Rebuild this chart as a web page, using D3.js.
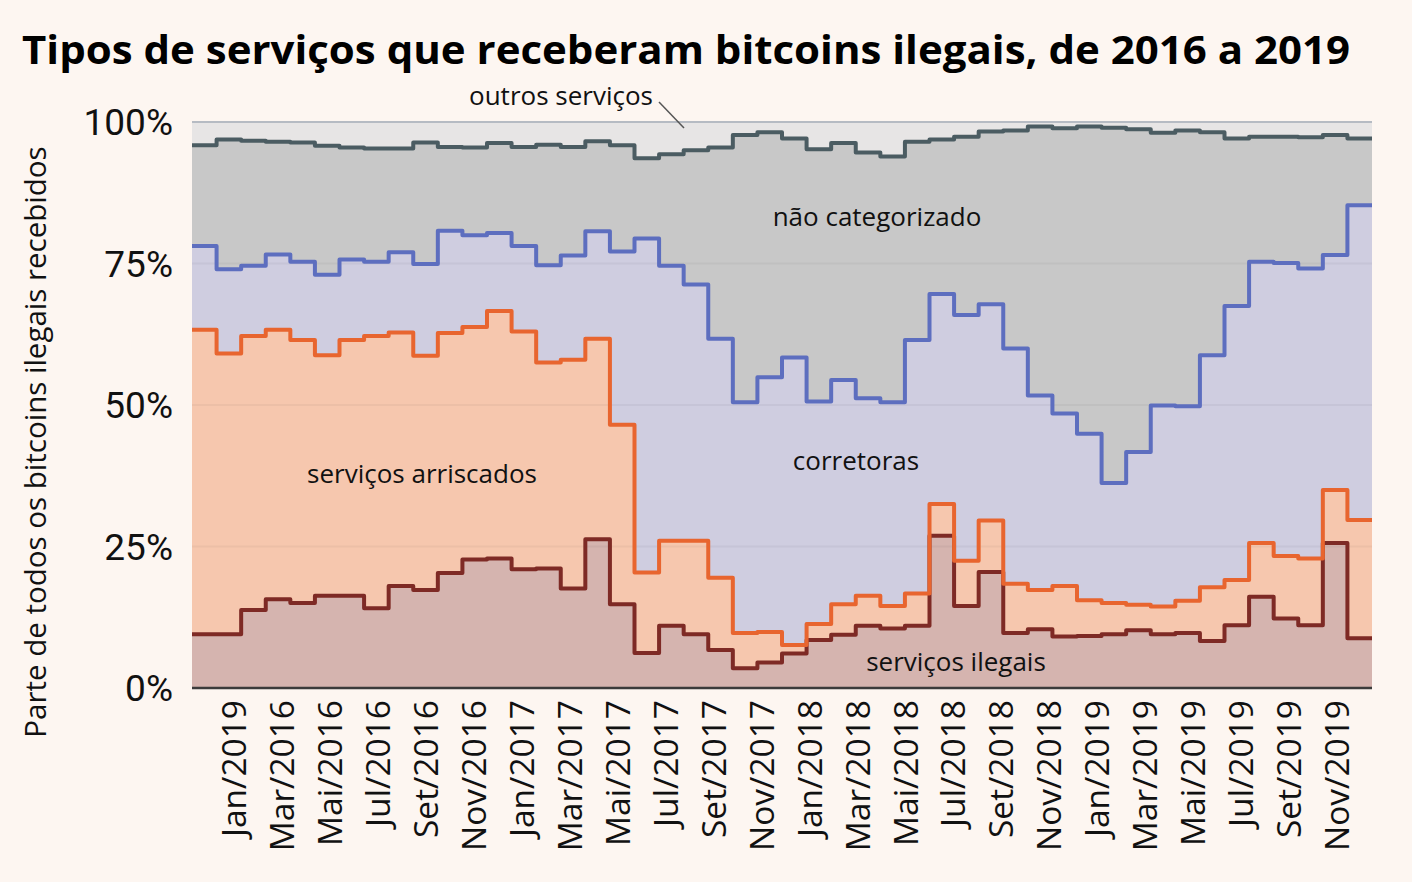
<!DOCTYPE html>
<html><head><meta charset="utf-8">
<script src="https://cdn.jsdelivr.net/npm/d3@7"></script>
<style>
html,body{margin:0;padding:0;background:#fdf6f1;}
svg{display:block;}
</style></head><body>
<svg id="chart" width="1412" height="882"></svg>
<script>
const months = [
 "Jan/2016","Fev/2016","Mar/2016","Abr/2016","Mai/2016","Jun/2016","Jul/2016","Ago/2016","Set/2016","Out/2016","Nov/2016","Dez/2016",
 "Jan/2017","Fev/2017","Mar/2017","Abr/2017","Mai/2017","Jun/2017","Jul/2017","Ago/2017","Set/2017","Out/2017","Nov/2017","Dez/2017",
 "Jan/2018","Fev/2018","Mar/2018","Abr/2018","Mai/2018","Jun/2018","Jul/2018","Ago/2018","Set/2018","Out/2018","Nov/2018","Dez/2018",
 "Jan/2019","Fev/2019","Mar/2019","Abr/2019","Mai/2019","Jun/2019","Jul/2019","Ago/2019","Set/2019","Out/2019","Nov/2019","Dez/2019"];

const tickLabels = ["Jan/2019","Mar/2016","Mai/2016","Jul/2016","Set/2016","Nov/2016",
 "Jan/2017","Mar/2017","Mai/2017","Jul/2017","Set/2017","Nov/2017",
 "Jan/2018","Mar/2018","Mai/2018","Jul/2018","Set/2018","Nov/2018",
 "Jan/2019","Mar/2019","Mai/2019","Jul/2019","Set/2019","Nov/2019"];

// shares (%) per month
const ilegais = [9.5,9.5,13.8,15.7,15.0,16.3,16.3,14.1,18.0,17.3,20.3,22.7,
 22.9,21.0,21.1,17.6,26.3,14.8,6.2,11.0,9.5,6.7,3.5,4.5,
 6.1,8.5,9.4,11.0,10.5,11.0,26.9,14.5,20.5,9.7,10.4,9.1,
 9.2,9.5,10.2,9.5,9.7,8.3,11.1,16.1,12.3,11.1,25.6,8.8];
const arriscados = [53.8,49.6,48.4,47.6,46.5,42.5,45.2,48.1,44.8,41.4,42.4,41.1,
 43.7,42.0,36.4,40.4,35.4,31.7,14.2,15.0,16.5,12.8,6.2,5.4,
 1.5,2.8,5.4,5.3,4.0,5.7,5.6,8.0,9.1,8.7,6.9,8.9,
 6.3,5.5,4.5,4.9,5.7,9.5,8.0,9.5,11.0,11.8,9.4,20.9];
const corretoras = [14.8,14.9,12.4,13.3,13.8,14.2,14.2,13.1,14.2,16.2,18.1,16.2,
 13.8,15.1,17.2,18.4,19.0,30.6,59.0,48.6,45.3,42.2,40.8,45.0,
 50.8,39.3,39.6,34.9,36.0,44.8,37.1,43.4,38.2,41.6,34.4,30.5,
 29.4,21.2,27.0,35.5,34.4,41.0,48.4,49.7,51.8,51.2,41.5,55.6];
const naoCategorizado = [17.8,22.9,22.1,19.9,21.1,22.8,19.8,20.0,18.3,21.5,14.8,15.5,
 15.9,17.5,21.3,19.2,15.9,18.8,14.2,19.7,23.7,33.8,47.2,43.3,
 38.7,44.6,41.9,43.4,43.4,35.0,27.3,31.5,30.5,38.5,47.5,50.4,
 54.3,62.8,57.0,48.2,48.7,39.4,29.6,22.1,22.3,23.2,21.2,11.8];
const outros = [4.1,3.1,3.3,3.5,3.6,4.2,4.5,4.7,4.7,3.6,4.4,4.5,
 3.7,4.4,4.0,4.4,3.4,4.1,6.4,5.7,5.0,4.5,2.3,1.8,
 2.9,4.8,3.7,5.4,6.1,3.5,3.1,2.6,1.7,1.5,0.8,1.1,
 0.8,1.0,1.3,1.9,1.5,1.8,2.9,2.6,2.6,2.7,2.3,2.9];

const seriesKeys = ["ilegais","arriscados","corretoras","naoCategorizado","outros"];
const seriesLabels = ["serviços ilegais","serviços arriscados","corretoras","não categorizado","outros serviços"];
const yTicks = [0,25,50,75,100];

const fills = {ilegais:"#d5b4af", arriscados:"#f6c7ae", corretoras:"#cfcde0", naoCategorizado:"#c8c8c8", outros:"#e7e5e5"};
const strokes = {ilegais:"#7e2a25", arriscados:"#e8652f", corretoras:"#5d6ebf", naoCategorizado:"#4b5c62"};

const svg = d3.select("#chart");
const x = d3.scaleLinear().domain([0, months.length]).range([192, 1372]);
const y = d3.scaleLinear().domain([0, 100]).range([688, 122]);

const rows = months.map((m, i) => ({i, ilegais: ilegais[i], arriscados: arriscados[i], corretoras: corretoras[i], naoCategorizado: naoCategorizado[i], outros: outros[i]}));
const rowsExt = rows.concat([Object.assign({}, rows[rows.length - 1], {i: months.length})]);
const stacked = d3.stack().keys(seriesKeys)(rowsExt);

const area = d3.area().x(d => x(d.data.i)).y0(d => y(d[0])).y1(d => y(d[1])).curve(d3.curveStepAfter);
const line = d3.line().x(d => x(d.data.i)).y(d => y(d[1])).curve(d3.curveStepAfter);

// Title
svg.append("text").attr("x", 22).attr("y", 64)
  .attr("font-family", "'Open Sans', sans-serif").attr("font-weight", 700).attr("font-size", 40)
  .attr("fill", "#000").attr("textLength", 1328).attr("lengthAdjust", "spacingAndGlyphs")
  .text("Tipos de serviços que receberam bitcoins ilegais, de 2016 a 2019");

// Areas
svg.append("g").selectAll("path").data(stacked).join("path")
  .attr("d", area).attr("fill", d => fills[d.key]);

// grid lines
svg.append("g").selectAll("line").data(yTicks.filter(t => t > 0 && t < 100)).join("line")
  .attr("x1", x(0)).attr("x2", x(months.length)).attr("y1", d => y(d)).attr("y2", d => y(d))
  .attr("stroke", "#000").attr("stroke-opacity", 0.04).attr("stroke-width", 2);

// top line at 100%
svg.append("line").attr("x1", x(0)).attr("x2", x(months.length)).attr("y1", y(100)).attr("y2", y(100))
  .attr("stroke", "#b6bbc3").attr("stroke-width", 2);

// boundary lines
svg.append("g").selectAll("path").data(stacked.filter(s => strokes[s.key])).join("path")
  .attr("d", line).attr("fill", "none").attr("stroke", d => strokes[d.key])
  .attr("stroke-width", 4).attr("stroke-linejoin", "round");

// x axis line
svg.append("line").attr("x1", x(0)).attr("x2", x(months.length)).attr("y1", y(0)).attr("y2", y(0))
  .attr("stroke", "#3b3b3b").attr("stroke-width", 2.5);

// y tick labels
svg.append("g").selectAll("text").data(yTicks).join("text")
  .attr("x", 173).attr("y", d => y(d)).attr("dy", "0.36em").attr("text-anchor", "end")
  .attr("font-family", "Roboto, sans-serif").attr("font-size", 37).attr("fill", "#111")
  .text(d => d + "%");

// x tick labels
const tx = d3.scaleLinear().domain([0, tickLabels.length - 1]).range([x(1.71), x(46.58)]);
svg.append("g").selectAll("text").data(tickLabels).join("text")
  .attr("transform", (d, i) => `translate(${tx(i)},700) rotate(-90)`)
  .attr("dy", "0.36em").attr("text-anchor", "end")
  .attr("font-family", "'Open Sans', sans-serif").attr("font-size", 33.5).attr("fill", "#111")
  .text(d => d);

// y axis title
svg.append("text").attr("transform", "translate(35,442) rotate(-90)")
  .attr("dy", "0.36em").attr("text-anchor", "middle")
  .attr("font-family", "'Open Sans', sans-serif").attr("font-size", 29.5).attr("fill", "#111")
  .text("Parte de todos os bitcoins ilegais recebidos");

// series labels
const labelPos = [
  {k: 0, x: 956, y: 662},
  {k: 1, x: 422, y: 474},
  {k: 2, x: 856, y: 461},
  {k: 3, x: 877, y: 217},
  {k: 4, x: 561, y: 96}
];
svg.append("g").selectAll("text").data(labelPos).join("text")
  .attr("x", d => d.x).attr("y", d => d.y).attr("dy", "0.36em").attr("text-anchor", "middle")
  .attr("font-family", "'Open Sans', sans-serif").attr("font-size", 26).attr("fill", "#111")
  .text(d => seriesLabels[d.k]);

// leader line for "outros serviços"
svg.append("line").attr("x1", 659).attr("y1", 102).attr("x2", 684).attr("y2", 128)
  .attr("stroke", "#555").attr("stroke-width", 1.5);
</script>
</body></html>
